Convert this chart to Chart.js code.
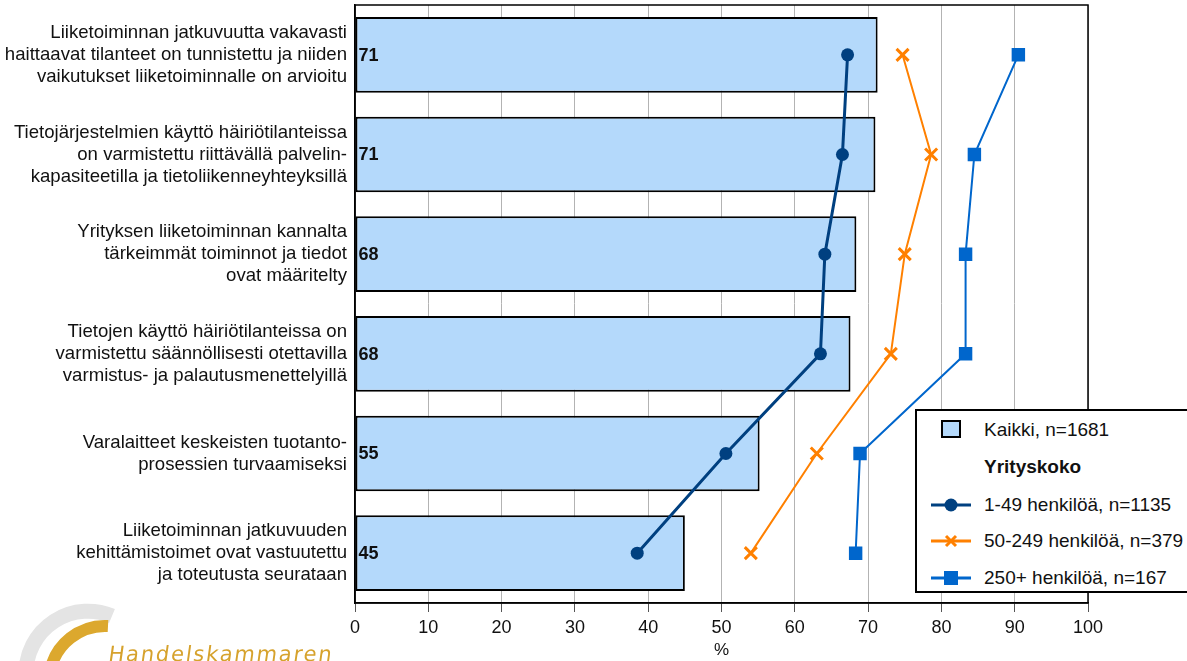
<!DOCTYPE html>
<html>
<head>
<meta charset="utf-8">
<script src="https://cdn.jsdelivr.net/npm/chart.js@4/dist/chart.umd.min.js"></script>
<style>
  html, body { margin: 0; padding: 0; background: #fff; }
  #wrap { position: relative; width: 1187px; height: 661px; overflow: hidden; font-family: "Liberation Sans", Arial, sans-serif; }
  #c { position: absolute; left: 0; top: 0; }
  #legend { position: absolute; left: 915px; top: 409px; width: 300px; height: 184px; border: 2px solid #000; background: #fff; box-sizing: border-box; font-size: 19px; color: #111; }
  .li { position: absolute; left: 0; height: 24px; line-height: 24px; white-space: nowrap; }
  .li span { position: absolute; left: 67px; top: 0; }
  .li svg { position: absolute; left: 12px; top: 0; }
  #logo { position: absolute; left: 0; top: 600px; width: 360px; height: 61px; }
  #logoText { position: absolute; left: 107px; top: 642px; font-size: 21px; letter-spacing: 1.8px; color: #d6a22c; font-family: "DejaVu Sans", sans-serif; white-space: nowrap; transform: skewX(-8deg); transform-origin: left bottom; }
</style>
</head>
<body>
<div id="wrap">
  <canvas id="c" width="1187" height="661"></canvas>
  <svg id="logo" width="360" height="61" viewBox="0 600 360 61">
    <path d="M 26 672 A 62 62 0 0 1 112 616" fill="none" stroke="#e4e4e4" stroke-width="15"/>
    <path d="M 50 672 A 56 56 0 0 1 108 626" fill="none" stroke="#dca82e" stroke-width="12"/>
  </svg>
  <div id="logoText">Handelskammaren</div>
  <div id="legend"></div>
</div>
<script>
const categories = [
  ["Liiketoiminnan jatkuvuutta vakavasti", "haittaavat tilanteet on tunnistettu ja niiden", "vaikutukset liiketoiminnalle on arvioitu"],
  ["Tietojärjestelmien käyttö häiriötilanteissa", "on varmistettu riittävällä palvelin-", "kapasiteetilla ja tietoliikenneyhteyksillä"],
  ["Yrityksen liiketoiminnan kannalta", "tärkeimmät toiminnot ja tiedot", "ovat määritelty"],
  ["Tietojen käyttö häiriötilanteissa on", "varmistettu säännöllisesti otettavilla", "varmistus- ja palautusmenettelyillä"],
  ["Varalaitteet keskeisten tuotanto-", "prosessien turvaamiseksi"],
  ["Liiketoiminnan jatkuvuuden", "kehittämistoimet ovat vastuutettu", "ja toteutusta seurataan"]
];
const kaikki = [71.3, 71.0, 68.4, 67.6, 55.2, 45.0];
const size1_49 = [67.2, 66.5, 64.1, 63.5, 50.6, 38.5];
const size50_249 = [74.7, 78.6, 75.0, 73.1, 63.0, 54.0];
const size250 = [90.5, 84.5, 83.3, 83.3, 68.9, 68.3];
const xTicks = [0, 10, 20, 30, 40, 50, 60, 70, 80, 90, 100];

const seriesNames = ["Kaikki, n=1681", "1-49 henkilöä, n=1135", "50-249 henkilöä, n=379", "250+ henkilöä, n=167"];
const legendTitle = "Yrityskoko";
const xTitle = "%";

const FONT = "'Liberation Sans', Arial, sans-serif";
const C_BAR = "#b4d9fb";
const C1 = "#004080", C2 = "#ff8000", C3 = "#0066cc";

const frame = {
  id: 'frame',
  afterDraw(chart) {
    const a = chart.chartArea, ctx = chart.ctx;
    ctx.save();
    ctx.strokeStyle = '#000';
    ctx.lineWidth = 1.5;
    ctx.strokeRect(a.left, a.top, a.right - a.left, a.bottom - a.top);
    ctx.restore();
  }
};
const valueLabels = {
  id: 'valueLabels',
  afterDatasetsDraw(chart) {
    const meta = chart.getDatasetMeta(0), ctx = chart.ctx;
    ctx.save();
    ctx.font = "bold 18px " + FONT;
    ctx.fillStyle = '#111';
    ctx.textAlign = 'left';
    ctx.textBaseline = 'middle';
    meta.data.forEach((el, i) => {
      ctx.fillText(String(Math.round(kaikki[i])), el.base + 3, el.y + 1);
    });
    ctx.restore();
  }
};

new Chart(document.getElementById('c'), {
  type: 'bar',
  data: {
    labels: categories,
    datasets: [
      { label: seriesNames[0], data: kaikki, backgroundColor: C_BAR, borderColor: '#000', borderWidth: 2, borderSkipped: false, barPercentage: 0.76, categoryPercentage: 1, order: 10 },
      { type: 'line', label: seriesNames[1], data: size1_49, borderColor: C1, backgroundColor: C1, borderWidth: 3, pointStyle: 'circle', pointRadius: 6.5, pointBorderWidth: 0, fill: false, order: 3 },
      { type: 'line', label: seriesNames[2], data: size50_249, borderColor: C2, backgroundColor: C2, borderWidth: 2, pointStyle: 'crossRot', pointRadius: 8.5, pointBorderWidth: 3, fill: false, order: 2 },
      { type: 'line', label: seriesNames[3], data: size250, borderColor: C3, backgroundColor: C3, borderWidth: 2, pointStyle: 'rect', pointRadius: 9.5, pointBorderWidth: 0, fill: false, order: 1 }
    ]
  },
  options: {
    indexAxis: 'y',
    responsive: false,
    animation: false,
    layout: { autoPadding: false, padding: { top: 5, right: 99, left: 0, bottom: 0 } },
    plugins: { legend: { display: false }, tooltip: { enabled: false } },
    scales: {
      x: {
        min: 0, max: 100,
        afterBuildTicks(s) { s.ticks = xTicks.map(v => ({ value: v })); },
        afterFit(s) { s.height = 58; },
        grid: { color: '#b3b3b3', lineWidth: 1, tickLength: 9, tickColor: '#555' },
        border: { display: true, color: '#000', width: 1.5 },
        ticks: { font: { family: FONT, size: 18 }, color: '#111', padding: 5, maxRotation: 0 },
        title: { display: true, text: xTitle, font: { family: FONT, size: 17 }, color: '#111', padding: { top: 0, bottom: 0 } }
      },
      y: {
        afterFit(s) { s.width = 355; s.paddingTop = 0; s.paddingBottom = 0; },
        grid: { display: false, drawTicks: false },
        border: { display: true, color: '#000', width: 1.5 },
        ticks: { font: { family: FONT, size: 18.6, lineHeight: 1.18 }, color: '#111', padding: 8, autoSkip: false }
      }
    }
  },
  plugins: [frame, valueLabels]
});

// HTML legend built from the series names
const lg = document.getElementById('legend');
function addItem(top, svg, text, bold) {
  const d = document.createElement('div');
  d.className = 'li';
  d.style.top = top + 'px';
  d.innerHTML = (svg || '') + '<span' + (bold ? ' style="font-weight:bold"' : '') + '></span>';
  d.querySelector('span').textContent = text;
  lg.appendChild(d);
}
const sw = '<svg width="50" height="24"><rect x="13" y="3" width="18" height="16" fill="' + C_BAR + '" stroke="#000" stroke-width="2"/></svg>';
const ln1 = '<svg width="50" height="24"><line x1="2" y1="12" x2="42" y2="12" stroke="' + C1 + '" stroke-width="3"/><circle cx="22" cy="12" r="6.5" fill="' + C1 + '"/></svg>';
const ln2 = '<svg width="50" height="24"><line x1="2" y1="12" x2="42" y2="12" stroke="' + C2 + '" stroke-width="3"/><path d="M17 7 L27 17 M27 7 L17 17" stroke="' + C2 + '" stroke-width="3"/></svg>';
const ln3 = '<svg width="50" height="24"><line x1="2" y1="12" x2="42" y2="12" stroke="' + C3 + '" stroke-width="3"/><rect x="15" y="5" width="14" height="14" fill="' + C3 + '"/></svg>';
addItem(7, sw, seriesNames[0]);
addItem(44, '', legendTitle, true);
addItem(82, ln1, seriesNames[1]);
addItem(118, ln2, seriesNames[2]);
addItem(155, ln3, seriesNames[3]);
</script>
</body>
</html>
